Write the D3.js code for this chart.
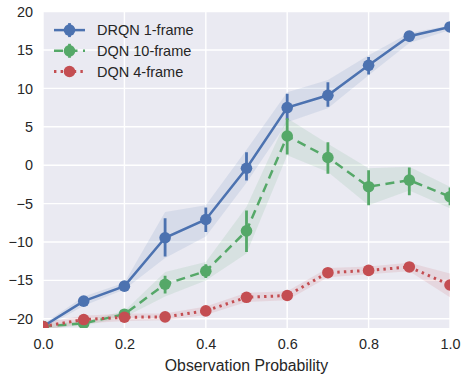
<!DOCTYPE html>
<html lang="en">
<head>
<meta charset="UTF-8" />
<title>Observation Probability</title>
<script src="https://d3js.org/d3.v7.min.js"></script>
<style>
  body { margin: 0; background: #fff; font-family: 'Liberation Sans', Arial, sans-serif; }
  .tick text { fill: #262626; font-size: 14.4px; }
</style>
</head>
<body>
<div id="chart"></div>
<script>
const probs = [0.0, 0.1, 0.2, 0.3, 0.4, 0.5, 0.6, 0.7, 0.8, 0.9, 1.0];

const drqnMean = [-21, -17.7, -15.75, -9.45, -7.07, -0.4, 7.5, 9.1, 13.0, 16.8, 18.0];
const drqnErrLo = [-21.2, -18.0, -16.0, -11.9, -8.7, -2.0, 5.9, 7.6, 11.8, 16.1, 17.8];
const drqnErrHi = [-20.8, -17.4, -15.5, -6.9, -5.5, 1.7, 9.3, 10.8, 14.1, 17.3, 18.2];
const drqnBandLo = [-21.3, -18.3, -16.2, -12.1, -9.3, -2.3, 5.6, 7.4, 11.7, 15.9, 17.6];
const drqnBandHi = [-20.7, -17.1, -15.3, -6.1, -5.2, 2.0, 9.5, 11.1, 14.3, 17.2, 18.2];

const dqn10Mean = [-21, -20.6, -19.4, -15.5, -13.8, -8.55, 3.8, 1.0, -2.8, -1.95, -4.1];
const dqn10ErrLo = [-21.2, -20.9, -19.7, -16.7, -14.7, -11.3, 1.4, -1.1, -5.2, -3.9, -5.2];
const dqn10ErrHi = [-20.8, -20.3, -19.1, -14.4, -12.9, -5.9, 6.1, 3.0, -0.65, -0.3, -2.9];
const dqn10BandLo = [-21.3, -20.9, -19.8, -17.1, -15.0, -11.5, 1.3, -0.9, -5.2, -3.3, -5.6];
const dqn10BandHi = [-20.7, -20.3, -19.0, -13.9, -12.6, -5.4, 6.1, 2.8, -0.4, -0.2, -2.8];

const dqn4Mean = [-21, -20.1, -19.8, -19.75, -18.97, -17.2, -16.97, -14.0, -13.7, -13.25, -15.6];
const dqn4BandLo = [-21.5, -20.6, -20.3, -20.2, -19.5, -17.8, -17.6, -14.6, -14.2, -13.8, -17.2];
const dqn4BandHi = [-20.5, -19.6, -19.3, -19.3, -18.4, -16.6, -16.4, -13.4, -13.2, -12.7, -14.1];

const xTicks = [0.0, 0.2, 0.4, 0.6, 0.8, 1.0];
const yTicks = [-20, -15, -10, -5, 0, 5, 10, 15, 20];
const seriesNames = ["DRQN 1-frame", "DQN 10-frame", "DQN 4-frame"];

const W = 464, H = 375;
const margin = { top: 11.6, right: 14, bottom: 47, left: 43 };
const width = W - margin.left - margin.right;
const height = H - margin.top - margin.bottom;

const svg = d3.select("#chart").append("svg")
  .attr("width", W).attr("height", H);
const g = svg.append("g").attr("transform", `translate(${margin.left},${margin.top})`);

const x = d3.scaleLinear().domain([0, 1]).range([0, width]);
const y = d3.scaleLinear().domain([-21.2, 20]).range([height, 0]);

g.append("rect").attr("width", width).attr("height", height).attr("fill", "#EAEAF2");

g.append("defs").append("clipPath").attr("id", "plotclip")
  .append("rect").attr("width", width).attr("height", height);

// grid
g.append("g").selectAll("line").data(xTicks).join("line")
  .attr("x1", d => x(d)).attr("x2", d => x(d)).attr("y1", 0).attr("y2", height)
  .attr("stroke", "#fff").attr("stroke-width", 1.4);
g.append("g").selectAll("line").data(yTicks).join("line")
  .attr("x1", 0).attr("x2", width).attr("y1", d => y(d)).attr("y2", d => y(d))
  .attr("stroke", "#fff").attr("stroke-width", 1.4);

// axes
const xAxis = g.append("g").attr("transform", `translate(0,${height})`)
  .call(d3.axisBottom(x).tickValues(xTicks).tickFormat(d3.format(".1f")).tickSize(0).tickPadding(10.5));
const yAxis = g.append("g")
  .call(d3.axisLeft(y).tickValues(yTicks).tickFormat(d => d < 0 ? "\u2212" + Math.abs(d) : d).tickSize(0).tickPadding(10));
[xAxis, yAxis].forEach(a => { a.select(".domain").remove(); a.selectAll("text").attr("font-family", "'Liberation Sans', Arial, sans-serif"); });

svg.append("text").attr("x", margin.left + width / 2).attr("y", 370.5)
  .attr("text-anchor", "middle").attr("font-size", 15.8).attr("fill", "#262626")
  .text("Observation Probability");

const series = [
  { name: seriesNames[0], color: "#4C72B0", mean: drqnMean, lo: drqnBandLo, hi: drqnBandHi, eLo: drqnErrLo, eHi: drqnErrHi, dash: null, w: 2.5 },
  { name: seriesNames[1], color: "#55A868", mean: dqn10Mean, lo: dqn10BandLo, hi: dqn10BandHi, eLo: dqn10ErrLo, eHi: dqn10ErrHi, dash: "9,5.5", w: 2.5 },
  { name: seriesNames[2], color: "#C44E52", mean: dqn4Mean, lo: dqn4BandLo, hi: dqn4BandHi, eLo: null, eHi: null, dash: "2.4,4.2", w: 3 }
];

const plot = g.append("g").attr("clip-path", "url(#plotclip)");

series.forEach(s => {
  const area = d3.area().x((d, i) => x(probs[i])).y0((d, i) => y(s.lo[i])).y1((d, i) => y(s.hi[i]));
  plot.append("path").datum(s.mean).attr("d", area).attr("fill", s.color).attr("fill-opacity", 0.12);
});

series.forEach(s => {
  const line = d3.line().x((d, i) => x(probs[i])).y(d => y(d));
  plot.append("path").datum(s.mean).attr("d", line).attr("fill", "none")
    .attr("stroke", s.color).attr("stroke-width", s.w)
    .attr("stroke-dasharray", s.dash);
  if (s.eLo) {
    plot.append("g").selectAll("line").data(s.mean).join("line")
      .attr("x1", (d, i) => x(probs[i])).attr("x2", (d, i) => x(probs[i]))
      .attr("y1", (d, i) => y(s.eLo[i])).attr("y2", (d, i) => y(s.eHi[i]))
      .attr("stroke", s.color).attr("stroke-width", 2.8);
  }
  plot.append("g").selectAll("circle").data(s.mean).join("circle")
    .attr("cx", (d, i) => x(probs[i])).attr("cy", d => y(d)).attr("r", 5.8)
    .attr("fill", s.color);
});

// legend
const legend = g.append("g").attr("transform", "translate(11,18.5)");
series.forEach((s, i) => {
  const row = legend.append("g").attr("transform", `translate(0,${i * 20.7})`);
  row.append("line").attr("x1", 0).attr("x2", 31).attr("stroke", s.color)
    .attr("stroke-width", s.w).attr("stroke-dasharray", s.dash);
  if (s.eLo) {
    row.append("line").attr("x1", 15.5).attr("x2", 15.5).attr("y1", -7).attr("y2", 7)
      .attr("stroke", s.color).attr("stroke-width", 2.8);
  }
  row.append("circle").attr("cx", 15.5).attr("r", 5.8).attr("fill", s.color);
  row.append("text").attr("x", 43).attr("y", 0).attr("dy", "0.35em")
    .attr("font-size", 14.5).attr("fill", "#262626").text(s.name);
});
</script>
</body>
</html>
